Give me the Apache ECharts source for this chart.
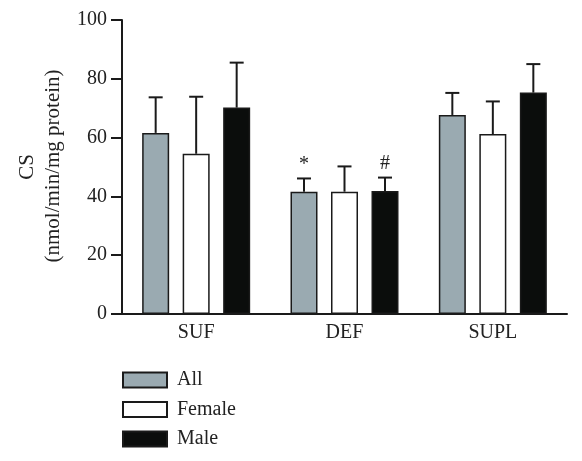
<!DOCTYPE html>
<html><head><meta charset="utf-8">
<script src="https://cdn.jsdelivr.net/npm/echarts@6/dist/echarts.min.js"></script>
<style>html,body{margin:0;padding:0;background:#fff}#c{width:582px;height:461px}</style>
</head><body><div id="c"></div>
<script>
const categories = ['SUF', 'DEF', 'SUPL'];
const seriesNames = ['All', 'Female', 'Male'];
const allMean = [61.6, 41.6, 67.7];
const allErrTop = [73.7, 46.1, 75.2];
const femaleMean = [54.5, 41.6, 61.2];
const femaleErrTop = [73.9, 50.2, 72.3];
const maleMean = [70.2, 41.8, 75.3];
const maleErrTop = [85.5, 46.4, 85.0];
const yMin = 0, yMax = 100, yStep = 20;
const marks = [{ series: 0, cat: 1, text: '*' }, { series: 2, cat: 1, text: '#' }];

const FONT = '"Liberation Serif", "DejaVu Serif", serif';
const colors = ['#9aaab1', '#ffffff', '#0b0d0c'];
const means = [allMean, femaleMean, maleMean];
const tops = [allErrTop, femaleErrTop, maleErrTop];
const BAR_W = 27, GAP = 13.5;

const chart = echarts.init(document.getElementById('c'), null, { renderer: 'canvas' });

function barSeries(i) {
  return {
    type: 'bar', name: seriesNames[i], data: means[i],
    barWidth: BAR_W, barGap: '50%',
    itemStyle: { color: colors[i], borderColor: '#1a1a1a', borderWidth: 1.5 },
    emphasis: { disabled: true }
  };
}
function errSeries(i) {
  return {
    type: 'custom', name: seriesNames[i] + ' err', silent: true, z: 5,
    data: means[i].map((m, k) => [k, m, tops[i][k]]),
    renderItem: function (params, api) {
      const c = api.value(0);
      const lo = api.coord([c, api.value(1)]);
      const hi = api.coord([c, api.value(2)]);
      const x = lo[0] + (i - 1) * (BAR_W + GAP);
      const children = [
        { type: 'line', shape: { x1: x, y1: lo[1], x2: x, y2: hi[1] }, style: { stroke: '#1a1a1a', lineWidth: 2 } },
        { type: 'line', shape: { x1: x - 7, y1: hi[1], x2: x + 7, y2: hi[1] }, style: { stroke: '#1a1a1a', lineWidth: 2 } }
      ];
      marks.filter(m => m.series === i && m.cat === c).forEach(m => {
        children.push({ type: 'text', x: x, y: hi[1] - 4, style: { text: m.text, fontFamily: FONT, fontSize: 20, fill: '#222', align: 'center', verticalAlign: 'bottom' } });
      });
      return { type: 'group', children: children };
    }
  };
}

chart.setOption({
  animation: false,
  backgroundColor: '#fff',
  grid: { left: 122, right: 15, top: 20, bottom: 147, containLabel: false },
  legend: {
    data: seriesNames, orient: 'vertical', left: 122, top: 370, padding: 0,
    itemWidth: 44, itemHeight: 15, itemGap: 9.5, icon: 'rect',
    textStyle: { fontFamily: FONT, fontSize: 20, lineHeight: 20, color: '#222', padding: [0, 0, 0, 5] },
    selectedMode: false
  },
  xAxis: {
    type: 'category', data: categories,
    axisLine: { lineStyle: { color: '#1a1a1a', width: 2 } },
    axisTick: { show: false },
    axisLabel: { fontFamily: FONT, fontSize: 20, color: '#222', margin: 9 }
  },
  yAxis: {
    type: 'value', min: yMin, max: yMax, interval: yStep,
    axisLine: { show: true, lineStyle: { color: '#1a1a1a', width: 2 } },
    axisTick: { show: true, inside: false, length: 11, lineStyle: { color: '#1a1a1a', width: 2 } },
    axisLabel: { fontFamily: FONT, fontSize: 20, color: '#222', margin: 15 },
    splitLine: { show: false }
  },
  graphic: [
    { type: 'text', x: 27, y: 167, rotation: Math.PI / 2, style: { text: 'CS', fontFamily: FONT, fontSize: 21, fill: '#222', align: 'center', verticalAlign: 'middle' } },
    { type: 'text', x: 53, y: 166, rotation: Math.PI / 2, style: { text: '(nmol/min/mg protein)', fontFamily: FONT, fontSize: 21, fill: '#222', align: 'center', verticalAlign: 'middle' } }
  ],
  series: [barSeries(0), barSeries(1), barSeries(2), errSeries(0), errSeries(1), errSeries(2)]
});
</script>
</body></html>
